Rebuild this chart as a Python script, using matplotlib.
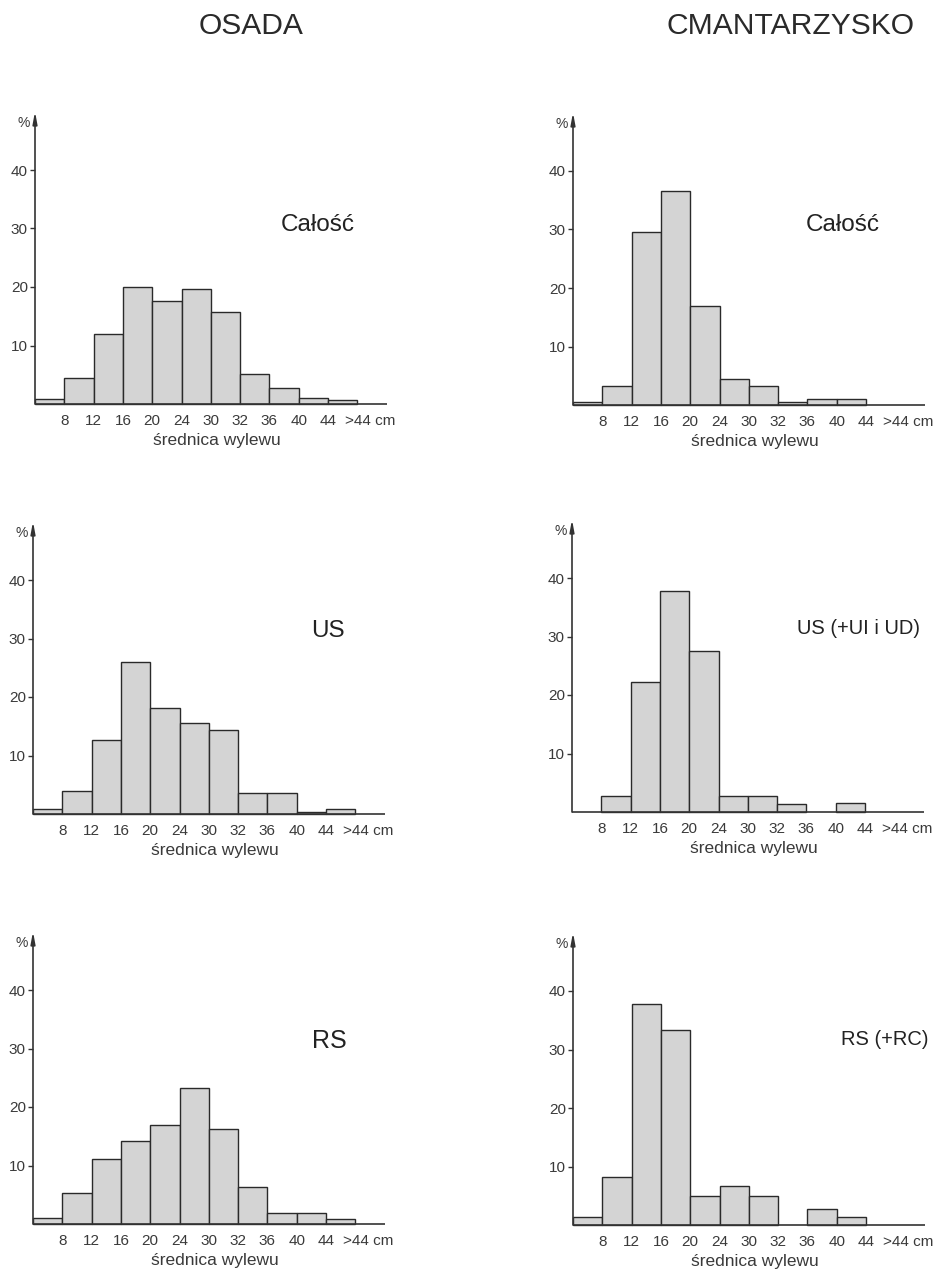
import matplotlib
matplotlib.use("Agg")
import matplotlib.pyplot as plt
import numpy as np

plt.rcParams['font.family'] = ['Liberation Sans', 'DejaVu Sans']

# ---- data ----
x_labels = ['8', '12', '16', '20', '24', '30', '32', '36', '40', '44', '>44']
osada_calosc = [0.8, 4.5, 11.9, 20.0, 17.6, 19.7, 15.8, 5.1, 2.7, 1.1, 0.7]
cm_calosc = [0.5, 3.3, 29.5, 36.5, 16.9, 4.5, 3.3, 0.5, 1.1, 1.1, 0.0]
osada_us = [0.8, 3.9, 12.6, 26.0, 18.1, 15.6, 14.4, 3.6, 3.6, 0.3, 0.9]
cm_us = [0.0, 2.8, 22.3, 37.7, 27.5, 2.8, 2.8, 1.4, 0.0, 1.5, 0.0]
osada_rs = [1.1, 5.3, 11.1, 14.2, 16.9, 23.3, 16.2, 6.3, 1.9, 1.9, 0.9]
cm_rs = [1.3, 8.2, 37.7, 33.4, 4.9, 6.6, 4.9, 0.0, 2.7, 1.3, 0.0]
y_ticks = [10, 20, 30, 40]
column_titles = ['OSADA', 'CMANTARZYSKO']
xlabel = 'średnica wylewu'

panels = [
    (osada_calosc, 'Całość'),
    (cm_calosc, 'Całość'),
    (osada_us, 'US'),
    (cm_us, 'US (+UI i UD)'),
    (osada_rs, 'RS'),
    (cm_rs, 'RS (+RC)'),
]

# ---- layout (pixels) ----
W, H = 939, 1274
DPI = 100
fig = plt.figure(figsize=(W / DPI, H / DPI), dpi=DPI)
fig.patch.set_facecolor('white')

origins = [(35, 404), (573, 405), (33, 814), (572, 812), (33, 1224), (573, 1225)]
bar_px = 29.3
unit_px = 5.85
XMAX = 12
YMAX = 50
ax_w = XMAX * bar_px
ax_h = YMAX * unit_px

label_pos = [(9.66, 29.6, 17.5), (9.22, 29.8, 17.5), (10.08, 30.3, 17.5),
             (9.77, 30.4, 14.5), (10.1, 30.0, 18), (10.65, 30.8, 14.5)]

dark = '#333333'
txt = '#3a3a3a'
face = '#d4d4d4'

for i, ((vals, name), (ox, oy)) in enumerate(zip(panels, origins)):
    ax = fig.add_axes([ox / W, (H - oy) / H, ax_w / W, ax_h / H])
    ax.set_xlim(0, XMAX)
    ax.set_ylim(0, YMAX)
    ax.patch.set_alpha(0)
    for s in ax.spines.values():
        s.set_visible(False)
    v = np.array(vals)
    xs = np.arange(len(v))
    m = v > 0
    ax.bar(xs[m], v[m], width=1.0, align='edge', color=face,
           edgecolor='#2a2a2a', linewidth=1.0, zorder=2, clip_on=False)
    # x axis
    ax.plot([0, XMAX], [0, 0], color=dark, lw=1.2, clip_on=False, zorder=3,
            solid_capstyle='butt')
    # y axis with arrow
    ax.annotate('', xy=(0, YMAX), xytext=(0, 0),
                arrowprops=dict(arrowstyle='-|>,head_length=0.7,head_width=0.13',
                                lw=1.2, color=dark, shrinkA=0, shrinkB=0),
                annotation_clip=False, zorder=3)
    ax.set_xticks([])
    ax.set_yticks(y_ticks)
    ax.set_yticklabels([str(t) for t in y_ticks])
    ax.tick_params(axis='y', direction='out', length=3.6, width=1.0,
                   color=dark, pad=1.5, labelsize=11, labelcolor=txt)
    # x tick labels at bin boundaries
    for k, lab in enumerate(x_labels):
        pos = k + 1
        if lab.startswith('>'):
            ax.annotate(lab + ' cm', xy=(pos, 0), xytext=(-9.2, -15),
                        textcoords='offset points', ha='left', va='baseline',
                        fontsize=11, color=txt, annotation_clip=False)
        else:
            ax.annotate(lab, xy=(pos, 0), xytext=(0, -15),
                        textcoords='offset points', ha='center', va='baseline',
                        fontsize=11, color=txt, annotation_clip=False)
    ax.annotate(xlabel, xy=(6.2, 0), xytext=(0, -29.5),
                textcoords='offset points', ha='center', va='baseline',
                fontsize=12.5, color=txt, annotation_clip=False)
    ax.text(-0.39, 48, '%', ha='center', va='center', fontsize=10, color=txt,
            clip_on=False)
    lx, ly, fs = label_pos[i]
    ax.text(lx, ly, name, ha='center', va='baseline', fontsize=fs, color='#222222',
            clip_on=False)

fig.text(251 / W, (H - 34) / H, column_titles[0], ha='center', va='baseline',
         fontsize=21.6, color='#2a2a2a')
fig.text(790 / W, (H - 34) / H, column_titles[1], ha='center', va='baseline',
         fontsize=21.6, color='#2a2a2a')

fig.savefig('out.png', dpi=DPI, facecolor='white')
